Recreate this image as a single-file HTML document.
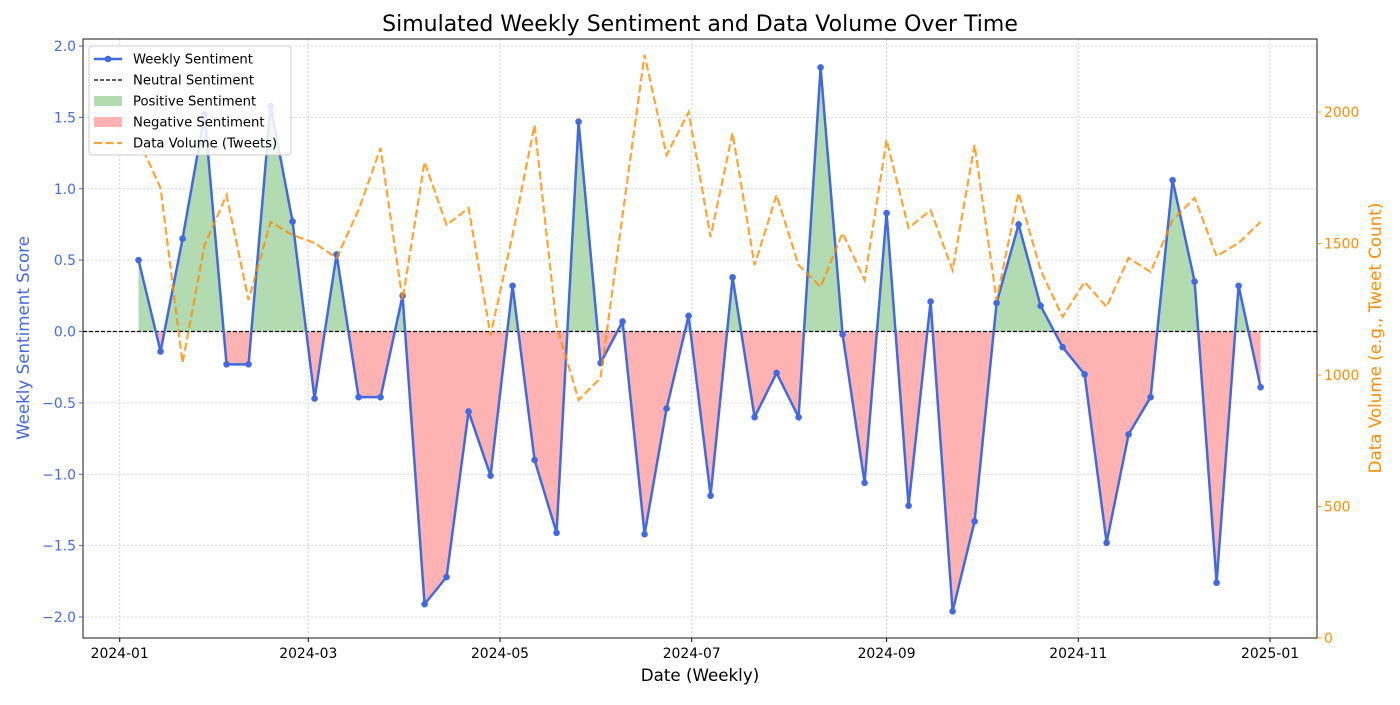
<!DOCTYPE html>
<html><head><meta charset="utf-8">
<style>
body{margin:0;background:#fff;font-family:"Liberation Sans","DejaVu Sans",sans-serif;}
svg text{font-family:"DejaVu Sans","Liberation Sans",sans-serif;}
</style></head>
<body>
<svg id="chart" width="1400" height="700" xmlns="http://www.w3.org/2000/svg"></svg>
<script>
const startDate = "2024-01-07";
const sentiment = [0.50,-0.14,0.65,1.52,-0.23,-0.23,1.58,0.77,-0.47,0.54,-0.46,-0.46,0.25,-1.91,-1.72,-0.56,-1.01,0.32,-0.90,-1.41,1.47,-0.22,0.07,-1.42,-0.54,0.11,-1.15,0.38,-0.60,-0.29,-0.60,1.85,-0.02,-1.06,0.83,-1.22,0.21,-1.96,-1.33,0.20,0.75,0.18,-0.11,-0.30,-1.48,-0.72,-0.46,1.06,0.35,-1.76,0.32,-0.39];
const volume = [1894,1711,1046,1494,1684,1285,1582,1532,1502,1445,1627,1863,1285,1810,1570,1635,1152,1532,1950,1190,905,989,1608,2217,1836,2000,1525,1920,1418,1684,1418,1335,1540,1361,1894,1559,1627,1399,1875,1285,1692,1399,1221,1354,1259,1445,1392,1589,1673,1452,1502,1582];
const leftTicks = [-2.0,-1.5,-1.0,-0.5,0.0,0.5,1.0,1.5,2.0];
const rightTicks = [0,500,1000,1500,2000];
const dateTicks = ["2024-01","2024-03","2024-05","2024-07","2024-09","2024-11","2025-01"];

const svg = document.getElementById('chart');
const NS = "http://www.w3.org/2000/svg";
const L=83,R=1317,T=39,B=638;
const day0 = Date.UTC(2024,0,1);
function xDate(ms){return 119.7 + (ms-day0)/86400000*3.143;}
function xIdx(i){return xDate(Date.parse(startDate+"T00:00:00Z")+i*7*86400000);}
function yL(v){return 331.5 - v*142.75;}
function yR(v){return 638 - v*0.263;}
function el(tag,attrs,parent){const e=document.createElementNS(NS,tag);for(const k in attrs)e.setAttribute(k,attrs[k]);(parent||svg).appendChild(e);return e;}
function txt(s,attrs,parent){const e=el('text',attrs,parent);e.textContent=s;return e;}

const defs=el('defs',{});
const cp=el('clipPath',{id:'above'},defs);el('rect',{x:L,y:T,width:R-L,height:yL(0)-T},cp);
const cn=el('clipPath',{id:'below'},defs);el('rect',{x:L,y:yL(0),width:R-L,height:B-yL(0)},cn);

const grid=el('g',{});


dateTicks.forEach(d=>{const x=xDate(Date.parse(d+"-01T00:00:00Z"));el('line',{x1:x,x2:x,y1:T,y2:B,stroke:'#ccc','stroke-width':0.8,'stroke-dasharray':'2,2'},grid);});
leftTicks.forEach(v=>{const y=yL(v);el('line',{x1:L,x2:R,y1:y,y2:y,stroke:'#ccc','stroke-width':0.8,'stroke-dasharray':'2,2'},grid);});

let poly='M'+xIdx(0)+','+yL(0);
sentiment.forEach((v,i)=>{poly+=' L'+xIdx(i)+','+yL(v);});
poly+=' L'+xIdx(sentiment.length-1)+','+yL(0)+' Z';
const pf=el('path',{d:poly,fill:'#b2dbb2','clip-path':'url(#above)'});


const nf=el('path',{d:poly,fill:'#ffb2b2','clip-path':'url(#below)'});



const nl=el('line',{x1:L,x2:R,y1:yL(0),y2:yL(0),stroke:'#000','stroke-width':1.2,'stroke-dasharray':'4,2'});



const sp=el('polyline',{points:sentiment.map((v,i)=>xIdx(i)+','+yL(v)).join(' '),fill:'none',stroke:'#4169e1','stroke-width':2.5});


sentiment.forEach((v,i)=>{const c=el('circle',{cx:xIdx(i),cy:yL(v),r:3.3,fill:'#4169e1'});

});

const vp=el('polyline',{points:volume.map((v,i)=>xIdx(i)+','+yR(v)).join(' '),fill:'none',stroke:'#ff8c00','stroke-width':2.2,'stroke-opacity':0.8,'stroke-dasharray':'8,3.5'});



el('rect',{x:L,y:T,width:R-L,height:B-T,fill:'none',stroke:'#000','stroke-width':0.9});

dateTicks.forEach(d=>{const x=xDate(Date.parse(d+"-01T00:00:00Z"));el('line',{x1:x,x2:x,y1:B,y2:B+4,stroke:'#000'});
const t=txt(d,{x:x,y:B+20,'font-size':13.9,'text-anchor':'middle',fill:'#000'});

});
leftTicks.forEach(v=>{const y=yL(v);el('line',{x1:L-4,x2:L,y1:y,y2:y,stroke:'#4169e1'});
const t=txt(v.toFixed(1).replace('-','\u2212'),{x:L-7,y:y+5,'font-size':13.9,'text-anchor':'end',fill:'#4169e1'});

});
rightTicks.forEach(v=>{const y=yR(v);el('line',{x1:R,x2:R+4,y1:y,y2:y,stroke:'#ff8c00'});
const t=txt(String(v),{x:R+7,y:y+5,'font-size':13.9,fill:'#ff8c00'});

});

let t=txt('Simulated Weekly Sentiment and Data Volume Over Time',{x:700,y:31,'font-size':22,'text-anchor':'middle',fill:'#000'});

t=txt('Date (Weekly)',{x:700,y:681,'font-size':16.7,'text-anchor':'middle',fill:'#000'});

t=txt('Weekly Sentiment Score',{x:0,y:0,'font-size':16.7,'text-anchor':'middle',fill:'#4169e1',transform:'translate(29,338) rotate(-90)'});

t=txt('Data Volume (e.g., Tweet Count)',{x:0,y:0,'font-size':16.7,'text-anchor':'middle',fill:'#ff8c00',transform:'translate(1381,338) rotate(-90)'});


const lg=el('g',{});


el('rect',{x:89,y:46,width:202,height:109,rx:3,fill:'#fff','fill-opacity':0.85,stroke:'#ccc'},lg);
const items=[['Weekly Sentiment','line'],['Neutral Sentiment','dash'],['Positive Sentiment','green'],['Negative Sentiment','red'],['Data Volume (Tweets)','orange']];
items.forEach((it,i)=>{const y=59+i*21;
if(it[1]=='line'){el('line',{x1:94,x2:122,y1:y,y2:y,stroke:'#4169e1','stroke-width':2.5},lg);el('circle',{cx:108,cy:y,r:3.3,fill:'#4169e1'},lg);}
if(it[1]=='dash')el('line',{x1:94,x2:122,y1:y,y2:y,stroke:'#000','stroke-width':1.2,'stroke-dasharray':'4,2'},lg);
if(it[1]=='green')el('rect',{x:94,y:y-5,width:28,height:10,fill:'#b2dbb2'},lg);
if(it[1]=='red')el('rect',{x:94,y:y-5,width:28,height:10,fill:'#ffb2b2'},lg);
if(it[1]=='orange')el('line',{x1:94,x2:122,y1:y,y2:y,stroke:'#ff8c00','stroke-width':2.2,'stroke-opacity':0.8,'stroke-dasharray':'8,3.5'},lg);
const e=txt(it[0],{x:133,y:y+4.5,'font-size':13.2,fill:'#000'},lg);

});
</script>
</body></html>
